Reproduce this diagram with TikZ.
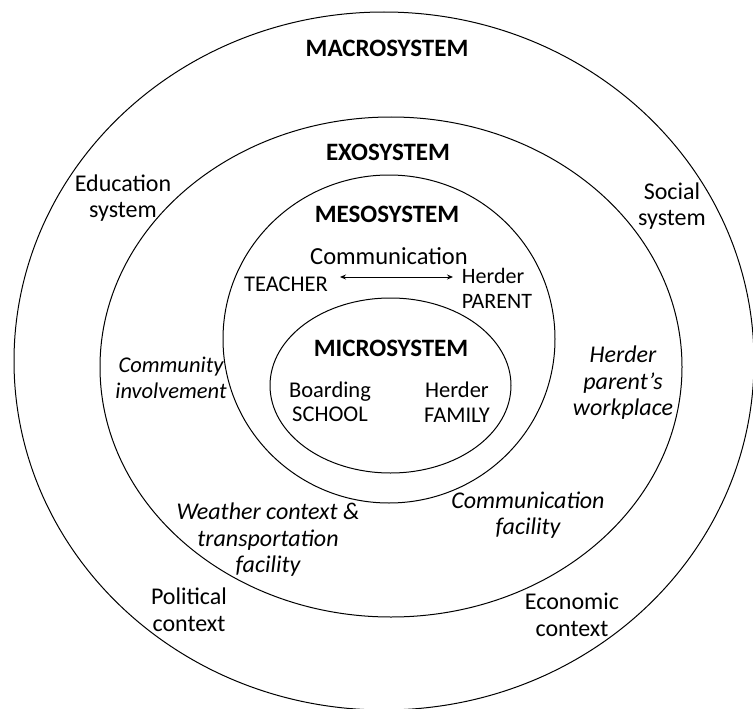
\documentclass[tikz,border=0pt]{standalone}
\usepackage{fontspec}
\setmainfont{Carlito}
\usetikzlibrary{arrows.meta}
\begin{document}
\begin{tikzpicture}[x=1pt,y=-1pt,
  ring/.style={draw=black, line width=1pt},
  head/.style={font=\fontsize{25}{30}\selectfont\bfseries, inner sep=0pt},
  lbl/.style={font=\fontsize{24}{26.5}\selectfont, align=center, inner sep=0pt},
  ilbl/.style={font=\fontsize{24}{26.5}\selectfont\itshape, align=center, inner sep=0pt},
  inner/.style={font=\fontsize{22.5}{24.5}\selectfont, align=center, inner sep=0pt},
  arr/.style={{Stealth[length=6pt,width=5pt]}-{Stealth[length=6pt,width=5pt]}, line width=0.9pt}]
\useasboundingbox (0,0) rectangle (753,709);
% rings
\draw[ring] (384,361) ellipse [x radius=370pt, y radius=349pt];
\draw[ring] (391,367) ellipse [x radius=291pt, y radius=250pt];
\draw[ring] (389,339) ellipse [x radius=166pt, y radius=164pt];
\draw[ring] (390.5,385.5) ellipse [x radius=120.5pt, y radius=87.5pt];
% headings
\node[head] (macro) at (387,48) {MACROSYSTEM};
\node[head] (exo) at (388,152) {EXOSYSTEM};
\node[head] (meso) at (387,214) {MESOSYSTEM};
\node[head] (micro) at (391,348) {MICROSYSTEM};
% mesosystem content
\node[inner, font=\fontsize{24.5}{29}\selectfont] (comm) at (389,256) {Communication};
\node[inner] (teacher) at (286,284) {TEACHER};
\node[inner, align=left, font=\fontsize{22}{25}\selectfont] (parent) at (497,288) {Herder\\PARENT};
\coordinate (a1) at (340,277);
\coordinate (a2) at (453,277);
\draw[arr] (a1) -- (a2);
% microsystem content
\node[inner] (school) at (330,402) {Boarding\\SCHOOL};
\node[inner] (family) at (457,402) {Herder\\FAMILY};
% exosystem content
\node[ilbl, font=\fontsize{22.5}{26.5}\selectfont\itshape] (community) at (171,378) {Community\\involvement};
\node[ilbl] (workplace) at (623,383) {Herder\\parent’s\\workplace};
\node[ilbl] (weather) at (268,540) {Weather context \&\\transportation\\facility};
\node[ilbl] (commfac) at (528,515) {Communication\\facility};
% macrosystem content
\node[lbl] (education) at (123,198) {Education\\system};
\node[lbl] (social) at (672,206) {Social\\system};
\node[lbl] (political) at (189,610) {Political\\context};
\node[lbl] (economic) at (572,615) {Economic\\context};
\end{tikzpicture}
\end{document}
